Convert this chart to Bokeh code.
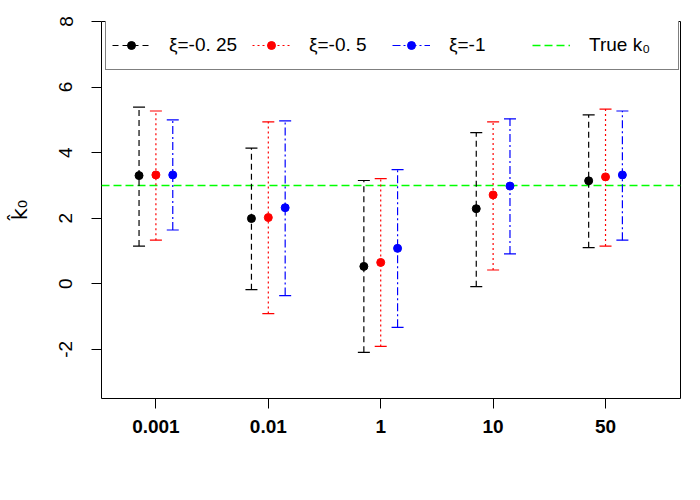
import numpy as np
from bokeh.plotting import figure
from bokeh.models import (Range1d, FixedTicker, Whisker, TeeHead, ColumnDataSource,
                          Legend, LegendItem)
from bokeh.embed import file_html
from bokeh.resources import INLINE

# ---- data ----
group_labels = ["0.001", "0.01", "1", "10", "50"]
group_pos = [1, 2, 3, 4, 5]

xi025_est = [3.30, 1.99, 0.53, 2.29, 3.14]
xi025_lo = [1.15, -0.18, -2.09, -0.09, 1.10]
xi025_hi = [5.39, 4.14, 3.15, 4.61, 5.15]

xi05_est = [3.32, 2.02, 0.65, 2.71, 3.26]
xi05_lo = [1.33, -0.91, -1.91, 0.42, 1.15]
xi05_hi = [5.27, 4.94, 3.21, 4.94, 5.33]

xi1_est = [3.32, 2.32, 1.08, 2.98, 3.32]
xi1_lo = [1.64, -0.36, -1.33, 0.91, 1.33]
xi1_hi = [5.00, 4.97, 3.48, 5.03, 5.27]

true_k0 = 3.0

series_names = ["ξ=-0. 25", "ξ=-0. 5", "ξ=-1"]
y_ticks = [-2, 0, 2, 4, 6, 8]
y_tick_labels = ["-2", "0", "2", "4", "6", "8"]

# ---- styles ----
FONT = "Liberation Sans"
colors = ["black", "#FF0000", "#0000FF"]
dashes = ["6 4", "2 3", "8 3 2 3"]
offsets = [-0.15, 0.0, 0.15]

x_range = Range1d(0.516, 5.667)
p = figure(width=684, height=484, output_backend="svg", toolbar_location=None,
           x_range=x_range, y_range=Range1d(-3.5, 8.0),
           min_border_left=101, min_border_right=4, min_border_top=21,
           min_border_bottom=86)
p.xgrid.visible = False
p.ygrid.visible = False
p.outline_line_color = "black"
p.outline_line_width = 1
p.background_fill_color = "white"
p.border_fill_color = "white"

# axes
p.xaxis.ticker = FixedTicker(ticks=group_pos)
p.xaxis.major_label_overrides = {g: l for g, l in zip(group_pos, group_labels)}
p.xaxis.major_label_text_font = FONT
p.xaxis.major_label_text_font_size = "19px"
p.xaxis.major_label_text_font_style = "bold"
p.xaxis.major_label_text_color = "black"
p.xaxis.major_tick_out = 10
p.xaxis.major_tick_in = 0
p.xaxis.minor_tick_line_color = None
p.xaxis.axis_line_color = None
p.xaxis.major_tick_line_color = "black"
p.xaxis.major_label_standoff = 11

p.yaxis.ticker = FixedTicker(ticks=y_ticks)
p.yaxis.major_label_overrides = {t: l for t, l in zip(y_ticks, y_tick_labels)}
p.yaxis.major_label_orientation = "vertical"
p.yaxis.major_label_text_font = FONT
p.yaxis.major_label_text_font_size = "19px"
p.yaxis.major_label_text_color = "black"
p.yaxis.major_tick_out = 10
p.yaxis.major_tick_in = 0
p.yaxis.minor_tick_line_color = None
p.yaxis.axis_line_color = None
p.yaxis.major_tick_line_color = "black"
p.yaxis.major_label_standoff = 19
p.yaxis.axis_label = "k\u0302\u2080"
p.yaxis.axis_label_text_font = "DejaVu Sans"
p.yaxis.axis_label_text_font_size = "21px"
p.yaxis.axis_label_text_font_style = "normal"
p.yaxis.axis_label_text_color = "black"
p.yaxis.axis_label_standoff = 25

# true k0 line spanning the whole x range
true_r = p.segment(x0=[x_range.start], x1=[x_range.end], y0=[true_k0], y1=[true_k0],
                   line_color="#00FF00", line_dash="8 4", line_width=1.5)

series = [(xi025_est, xi025_lo, xi025_hi), (xi05_est, xi05_lo, xi05_hi),
          (xi1_est, xi1_lo, xi1_hi)]
items = []
for (est, lo, hi), c, d, off, name in zip(series, colors, dashes, offsets, series_names):
    xs = np.array(group_pos, dtype=float) + off
    src = ColumnDataSource(dict(x=xs, est=est, lo=lo, hi=hi))
    seg = p.segment(x0="x", y0="lo", x1="x", y1="hi", source=src,
                    line_color=c, line_dash=d, line_width=1.2)
    w = Whisker(base="x", lower="lo", upper="hi", source=src, dimension="height",
                line_alpha=0,
                upper_head=TeeHead(size=12, line_color=c, line_width=1.2),
                lower_head=TeeHead(size=12, line_color=c, line_width=1.2))
    p.add_layout(w)
    sc = p.scatter(x="x", y="est", source=src, size=8, marker="circle",
                   fill_color=c, line_color=c)
    items.append(LegendItem(label=name, renderers=[seg, sc]))

items.append(LegendItem(label="True k\u2080", renderers=[true_r]))

legend = Legend(items=items, orientation="horizontal", location=(4, 328),
                glyph_width=38, glyph_height=20, label_width=83, label_height=37,
                label_standoff=19, spacing=0, padding=6, margin=0,
                label_text_font=FONT, label_text_font_size="19px",
                label_text_color="black", border_line_color="black",
                border_line_width=1, background_fill_color="white",
                background_fill_alpha=1.0)
p.add_layout(legend, "center")

open("out.html", "w").write(file_html(p, INLINE))
